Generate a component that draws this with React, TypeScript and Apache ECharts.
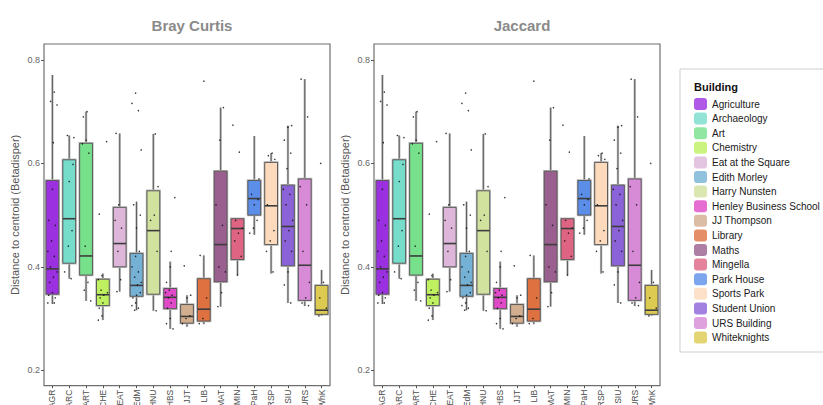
import React, { useEffect, useRef } from "react";
import * as echarts from "echarts";

const buildings = [
  "Agriculture", "Archaeology", "Art", "Chemistry", "Eat at the Square", "Edith Morley",
  "Harry Nunsten", "Henley Business School", "JJ Thompson", "Library", "Maths", "Mingella",
  "Park House", "Sports Park", "Student Union", "URS Building", "Whiteknights",
];
const codes = ["AGR", "ARC", "ART", "CHE", "EAT", "EdM", "HNU", "HBS", "JJT", "LIB", "MAT", "MIN", "PaH", "RSP", "SIU", "URS", "WhK"];
const colors = [
  "#9B30E0", "#76DDCB", "#76E08A", "#BEF060", "#DDB6DA", "#74B1D4", "#D1E19E", "#E04AC8",
  "#D2AD8E", "#DF7040", "#9A5F8F", "#DF6484", "#5B8EE8", "#FDDABB", "#8B62D8", "#D78AD6", "#DCCB50",
];
// [lower whisker, Q1, median, Q3, upper whisker]
const boxStats = [
  [0.328, 0.347, 0.396, 0.567, 0.771],
  [0.377, 0.407, 0.493, 0.607, 0.654],
  [0.334, 0.384, 0.421, 0.639, 0.700],
  [0.297, 0.325, 0.346, 0.376, 0.387],
  [0.352, 0.400, 0.445, 0.515, 0.658],
  [0.316, 0.343, 0.364, 0.426, 0.526],
  [0.315, 0.347, 0.470, 0.547, 0.657],
  [0.280, 0.319, 0.341, 0.358, 0.410],
  [0.284, 0.291, 0.304, 0.327, 0.345],
  [0.289, 0.295, 0.318, 0.377, 0.422],
  [0.323, 0.371, 0.443, 0.585, 0.708],
  [0.384, 0.414, 0.474, 0.493, 0.494],
  [0.462, 0.500, 0.532, 0.567, 0.653],
  [0.387, 0.443, 0.518, 0.602, 0.620],
  [0.330, 0.402, 0.478, 0.558, 0.673],
  [0.324, 0.335, 0.403, 0.570, 0.763],
  [0.305, 0.308, 0.316, 0.364, 0.394],
];
// observed points per building (jittered dots)
const points = [
  [0.771, 0.738, 0.72, 0.713, 0.64, 0.61, 0.603, 0.55, 0.49, 0.48, 0.45, 0.43, 0.42, 0.40, 0.39, 0.38, 0.37, 0.36, 0.35, 0.345, 0.34, 0.335, 0.33, 0.33, 0.328],
  [0.654, 0.65, 0.628, 0.61, 0.598, 0.565, 0.51, 0.47, 0.44, 0.39, 0.377],
  [0.70, 0.69, 0.66, 0.645, 0.638, 0.62, 0.44, 0.41, 0.37, 0.355, 0.334],
  [0.642, 0.562, 0.502, 0.387, 0.383, 0.375, 0.36, 0.355, 0.35, 0.345, 0.34, 0.335, 0.33, 0.32, 0.31, 0.305, 0.297],
  [0.658, 0.635, 0.52, 0.49, 0.475, 0.43, 0.41, 0.375, 0.352],
  [0.736, 0.716, 0.702, 0.63, 0.626, 0.526, 0.52, 0.50, 0.475, 0.46, 0.43, 0.42, 0.40, 0.39, 0.38, 0.37, 0.365, 0.36, 0.35, 0.345, 0.34, 0.335, 0.33, 0.325, 0.32, 0.316],
  [0.657, 0.635, 0.555, 0.50, 0.49, 0.43, 0.36, 0.335, 0.315],
  [0.534, 0.43, 0.428, 0.41, 0.40, 0.37, 0.36, 0.355, 0.35, 0.345, 0.34, 0.335, 0.33, 0.32, 0.31, 0.30, 0.29, 0.28],
  [0.402, 0.345, 0.34, 0.31, 0.305, 0.30, 0.29, 0.285],
  [0.759, 0.422, 0.34, 0.30, 0.29],
  [0.708, 0.645, 0.52, 0.48, 0.40, 0.39, 0.35, 0.323],
  [0.674, 0.622, 0.49, 0.475, 0.465, 0.45, 0.42, 0.384],
  [0.653, 0.57, 0.56, 0.54, 0.53, 0.52, 0.51, 0.49, 0.475, 0.465, 0.46],
  [0.62, 0.615, 0.608, 0.56, 0.52, 0.47, 0.45, 0.43, 0.39, 0.387],
  [0.673, 0.67, 0.645, 0.62, 0.59, 0.55, 0.54, 0.52, 0.49, 0.47, 0.45, 0.43, 0.39, 0.365, 0.33],
  [0.763, 0.69, 0.605, 0.555, 0.52, 0.43, 0.37, 0.34, 0.33, 0.325],
  [0.60, 0.394, 0.37, 0.34, 0.32, 0.31, 0.305],
];
const yTicks = [0.2, 0.4, 0.6, 0.8];
const panels = ["Bray Curtis", "Jaccard"];

const FONT = "Liberation Sans, Arial, sans-serif";

export default function App() {
  const ref = useRef<HTMLDivElement>(null);
  useEffect(() => {
    if (!ref.current) return;
    const chart = echarts.init(ref.current, null, { renderer: "svg" });

    const gridLefts = [44, 374];
    const boxData = boxStats.map((s, i) => ({ value: [i, ...s], itemStyle: { color: colors[i] } }));
    const dotData: number[][] = [];
    points.forEach((arr, i) => {
      arr.forEach((v, j) => {
        const jit = (((j * 7 + i * 3) % 11) / 10 - 0.5) * 0.55;
        dotData.push([i, v, jit]);
      });
    });

    const renderBox = (params: any, api: any) => {
      const x = api.value(0);
      const lo = api.coord([x, api.value(1)]);
      const q1 = api.coord([x, api.value(2)]);
      const med = api.coord([x, api.value(3)]);
      const q3 = api.coord([x, api.value(4)]);
      const hi = api.coord([x, api.value(5)]);
      const bw = api.size([1, 0])[0] * 0.76;
      const cx = q1[0];
      const fill = api.visual("color");
      return {
        type: "group",
        children: [
          { type: "line", shape: { x1: cx, y1: hi[1], x2: cx, y2: q3[1] }, style: { stroke: "#bdbdbd", lineWidth: 2.4 } },
          { type: "line", shape: { x1: cx, y1: hi[1], x2: cx, y2: q3[1] }, style: { stroke: "#5e5e5e", lineWidth: 1 } },
          { type: "line", shape: { x1: cx, y1: q1[1], x2: cx, y2: lo[1] }, style: { stroke: "#bdbdbd", lineWidth: 2.4 } },
          { type: "line", shape: { x1: cx, y1: q1[1], x2: cx, y2: lo[1] }, style: { stroke: "#5e5e5e", lineWidth: 1 } },
          { type: "rect", shape: { x: cx - bw / 2, y: q3[1], width: bw, height: q1[1] - q3[1] }, style: { fill: "none", stroke: "#bdbdbd", lineWidth: 2.4 } },
          { type: "rect", shape: { x: cx - bw / 2, y: q3[1], width: bw, height: q1[1] - q3[1] }, style: { fill, stroke: "#5a5a5a", lineWidth: 1 } },
          { type: "line", shape: { x1: cx - bw / 2, y1: med[1], x2: cx + bw / 2, y2: med[1] }, style: { stroke: "#3d3d3d", lineWidth: 1.6 } },
        ],
      };
    };
    const renderDot = (params: any, api: any) => {
      const x = api.value(0);
      const p = api.coord([x, api.value(1)]);
      const band = api.size([1, 0])[0];
      return { type: "circle", shape: { cx: p[0] + api.value(2) * band, cy: p[1], r: 0.75 }, style: { fill: "#111", opacity: 0.85 } };
    };

    const grids = gridLefts.map((l) => ({
      left: l, top: 44, width: 286, height: 341.7, show: true, borderColor: "#6f6f6f", borderWidth: 1.2,
      backgroundColor: "transparent", containLabel: false, outerBoundsMode: "none",
    }));
    const xAxes = gridLefts.map((_, g) => ({
      type: "category", gridIndex: g, data: codes,
      axisLine: { show: false },
      axisTick: { show: true, length: 2.5, alignWithLabel: true, lineStyle: { color: "#555" } },
      axisLabel: { rotate: 90, fontSize: 8.5, margin: 4, color: "#4d4d4d", fontFamily: FONT, interval: 0 },
      splitLine: { show: false },
    }));
    const yAxes = gridLefts.map((_, g) => ({
      type: "value", gridIndex: g, min: 0.17, max: 0.831,
      name: "Distance to centroid (Betadisper)", nameLocation: "middle", nameGap: 24, nameRotate: 90,
      nameTextStyle: { fontSize: 11, color: "#555", fontFamily: FONT },
      axisLine: { show: false },
      axisTick: { show: true, length: 3, customValues: yTicks, lineStyle: { color: "#555" } },
      axisLabel: { customValues: yTicks, fontSize: 9, color: "#666", margin: 4, fontFamily: FONT, formatter: (v: number) => v.toFixed(1) },
      splitLine: { show: false },
    }));

    const series: any[] = [];
    gridLefts.forEach((_, g) => {
      series.push({ type: "custom", name: "box" + g, xAxisIndex: g, yAxisIndex: g, data: boxData, renderItem: renderBox, encode: { x: 0, y: [1, 2, 3, 4, 5] }, silent: true, z: 2 });
      series.push({ type: "custom", name: "pts" + g, xAxisIndex: g, yAxisIndex: g, data: dotData, renderItem: renderDot, encode: { x: 0, y: 1 }, silent: true, z: 3 });
    });
    buildings.forEach((b, i) => {
      series.push({ type: "scatter", name: b, data: [], xAxisIndex: 0, yAxisIndex: 0, itemStyle: { color: colors[i] } });
    });

    chart.setOption({
      animation: false,
      backgroundColor: "#fff",
      textStyle: { fontFamily: FONT },
      title: panels.map((t, g) => ({
        text: t, left: gridLefts[g] + 143, top: 13, textAlign: "center",
        textStyle: { fontSize: 15, fontWeight: "bold", color: "#8a8a8a", fontFamily: FONT },
      })),
      grid: grids,
      xAxis: xAxes,
      yAxis: yAxes,
      legend: {
        data: buildings, left: 694, top: 98, orient: "vertical", icon: "roundRect",
        itemWidth: 13, itemHeight: 12, itemGap: 2.6, selectedMode: false, padding: 0,
        textStyle: { fontSize: 10, color: "#1a1a1a", fontFamily: FONT },
      },
      graphic: [
        { type: "rect", shape: { x: 680, y: 69, width: 160, height: 283 }, style: { fill: "none", stroke: "#cfcfcf", lineWidth: 1 } },
        { type: "text", x: 694, y: 87, style: { text: "Building", font: `bold 11px ${FONT}`, fill: "#111", verticalAlign: "middle" } },
      ],
      series,
    });
    return () => chart.dispose();
  }, []);
  return <div ref={ref} style={{ position: "fixed", left: 0, top: 0, width: 823, height: 405 }} />;
}
